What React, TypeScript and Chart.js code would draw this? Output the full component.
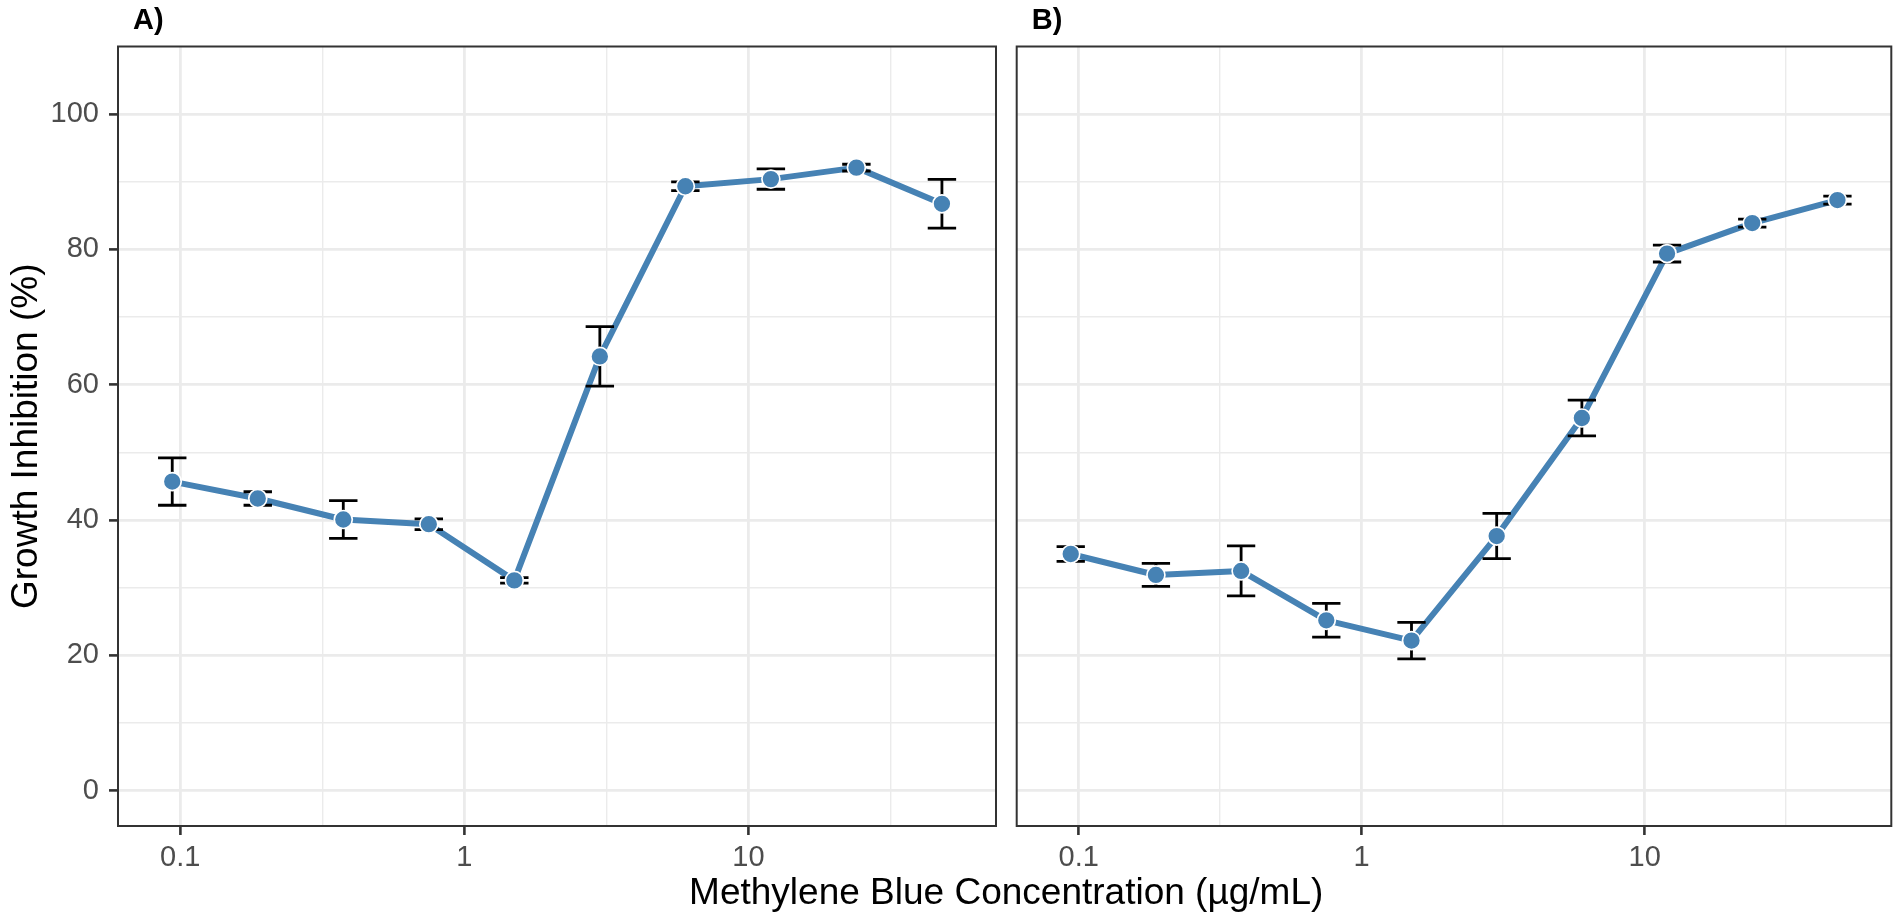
import React, { useEffect, useRef } from "react";
import { Chart, registerables } from "chart.js";

Chart.register(...registerables);

// ---- data ----
const CONC = [0.09375, 0.1875, 0.375, 0.75, 1.5, 3, 6, 12, 24, 48];
const A_MEAN = [45.7, 43.2, 40.1, 39.4, 31.1, 64.2, 89.35, 90.4, 92.1, 86.75];
const A_SD = [3.5, 1.0, 2.8, 0.8, 0.4, 4.4, 0.65, 1.5, 0.5, 3.6];
const B_MEAN = [35.0, 31.9, 32.5, 25.2, 22.2, 37.65, 55.1, 79.4, 83.9, 87.3];
const B_SD = [1.1, 1.7, 3.7, 2.5, 2.7, 3.35, 2.65, 1.25, 0.6, 0.6];

const X_MAJOR = [0.1, 1, 10];
const X_LABELS = ["0.1", "1", "10"];
const X_MINOR = [Math.pow(10, -0.5), Math.pow(10, 0.5), Math.pow(10, 1.5)];
const Y_MAJOR = [0, 20, 40, 60, 80, 100];
const Y_LABELS = ["0", "20", "40", "60", "80", "100"];
const Y_MINOR = [10, 30, 50, 70, 90];

const X_TITLE = "Methylene Blue Concentration (µg/mL)";
const Y_TITLE = "Growth Inhibition (%)";

// ---- styling / layout ----
const X_MIN = 0.0604;
const X_MAX = 74.4;
const Y_MIN = -5.2;
const Y_MAX = 110;
const CAP_HALF_LOG = 0.05;

const FONT = '"Liberation Sans", Arial, Helvetica, sans-serif';
const STEEL = "#4682B4";
const GRID = "#EBEBEB";
const DARK = "#333333";
const TICK_TXT = "#4D4D4D";

const W = 1902;
const H = 921;
const PANEL_TOP = 46.5;
const PANEL_BOTTOM = 826;
const A_LEFT = 118;
const A_RIGHT = 996;
const B_CANVAS_LEFT = 1006;
const B_LEFT = 1016.5;
const B_RIGHT = 1894.4;

const isIn = (v: number, arr: number[]) => arr.some((a) => Math.abs(a - v) < 1e-6 * Math.max(1, Math.abs(a)));

function makeConfig(mean: number[], sd: number[], isA: boolean, label: string): any {
  const pts = CONC.map((x, i) => ({ x, y: mean[i] }));
  const canvasW = isA ? W : W - B_CANVAS_LEFT;
  const padLeft = isA ? 0 : B_LEFT - B_CANVAS_LEFT;
  const padRight = isA ? W - A_RIGHT : canvasW - (B_RIGHT - B_CANVAS_LEFT);

  const decor = {
    id: "decor" + (isA ? "A" : "B"),
    afterDatasetDraw(chart: any, args: any) {
      if (args.index !== 0) return;
      const ctx = chart.ctx;
      const xs = chart.scales.x;
      const ys = chart.scales.y;
      ctx.save();
      ctx.strokeStyle = "#000000";
      ctx.lineWidth = 2.8;
      ctx.lineCap = "butt";
      CONC.forEach((c, i) => {
        const px = xs.getPixelForValue(c);
        const xl = xs.getPixelForValue(c * Math.pow(10, -CAP_HALF_LOG));
        const xr = xs.getPixelForValue(c * Math.pow(10, CAP_HALF_LOG));
        const yt = ys.getPixelForValue(mean[i] + sd[i]);
        const yb = ys.getPixelForValue(mean[i] - sd[i]);
        ctx.beginPath();
        ctx.moveTo(px, yt);
        ctx.lineTo(px, yb);
        ctx.moveTo(xl, yt);
        ctx.lineTo(xr, yt);
        ctx.moveTo(xl, yb);
        ctx.lineTo(xr, yb);
        ctx.stroke();
      });
      ctx.restore();
    },
    afterDraw(chart: any) {
      const ctx = chart.ctx;
      const a = chart.chartArea;
      ctx.save();
      ctx.strokeStyle = DARK;
      ctx.lineWidth = 2;
      ctx.strokeRect(a.left, a.top, a.right - a.left, a.bottom - a.top);
      ctx.fillStyle = "#000000";
      ctx.textAlign = "left";
      ctx.textBaseline = "alphabetic";
      ctx.font = `bold 29px ${FONT}`;
      ctx.fillText(label, a.left + 15, 29);
      if (isA) {
        ctx.font = `37px ${FONT}`;
        ctx.textAlign = "center";
        ctx.fillText(X_TITLE, (A_LEFT + B_RIGHT) / 2, 904);
      }
      ctx.restore();
    },
  };

  return {
    type: "line",
    data: {
      datasets: [
        {
          data: pts,
          borderColor: STEEL,
          borderWidth: 6,
          pointRadius: 0,
          fill: false,
          tension: 0,
          order: 2,
          borderJoinStyle: "round",
        },
        {
          data: pts,
          showLine: false,
          pointRadius: 9,
          pointBackgroundColor: STEEL,
          pointBorderColor: "#FFFFFF",
          pointBorderWidth: 1.7,
          order: 1,
        },
      ],
    },
    plugins: [decor],
    options: {
      animation: false,
      responsive: false,
      events: [],
      layout: { padding: { left: padLeft, right: padRight, top: PANEL_TOP, bottom: 0 } },
      plugins: { legend: { display: false }, tooltip: { enabled: false }, title: { display: false } },
      scales: {
        x: {
          type: "logarithmic",
          min: X_MIN,
          max: X_MAX,
          bounds: "data",
          afterBuildTicks: (s: any) => {
            s.ticks = [...X_MAJOR, ...X_MINOR].sort((p, q) => p - q).map((v) => ({ value: v }));
          },
          afterFit: (s: any) => {
            s.height = H - PANEL_BOTTOM;
          },
          ticks: {
            autoSkip: false,
            maxRotation: 0,
            minRotation: 0,
            padding: 6,
            color: TICK_TXT,
            font: { family: FONT, size: 29 },
            callback: (v: number) => {
              const i = X_MAJOR.findIndex((m) => Math.abs(m - v) < 1e-6 * m);
              return i >= 0 ? X_LABELS[i] : "";
            },
          },
          grid: {
            color: GRID,
            lineWidth: (c: any) => (c.tick && isIn(c.tick.value, X_MAJOR) ? 2.8 : 1.4),
            tickColor: (c: any) => (c.tick && isIn(c.tick.value, X_MAJOR) ? DARK : "rgba(0,0,0,0)"),
            tickWidth: 2.6,
            tickLength: 9,
            drawTicks: true,
          },
          border: { display: false },
        },
        y: {
          type: "linear",
          min: Y_MIN,
          max: Y_MAX,
          bounds: "data",
          afterBuildTicks: (s: any) => {
            s.ticks = [...Y_MAJOR, ...Y_MINOR].sort((p, q) => p - q).map((v) => ({ value: v }));
          },
          afterFit: (s: any) => {
            s.width = isA ? A_LEFT : 0;
          },
          ticks: {
            display: isA,
            padding: 10,
            color: TICK_TXT,
            font: { family: FONT, size: 29 },
            callback: (v: number) => {
              const i = Y_MAJOR.indexOf(v);
              return i >= 0 ? Y_LABELS[i] : "";
            },
          },
          grid: {
            color: GRID,
            lineWidth: (c: any) => (c.tick && isIn(c.tick.value, Y_MAJOR) ? 2.8 : 1.4),
            tickColor: (c: any) => (c.tick && isIn(c.tick.value, Y_MAJOR) ? DARK : "rgba(0,0,0,0)"),
            tickWidth: 2.6,
            tickLength: 9,
            drawTicks: isA,
          },
          border: { display: false },
          title: isA
            ? {
                display: true,
                text: Y_TITLE,
                color: "#000000",
                font: { family: FONT, size: 37 },
                padding: { top: 5, bottom: 0 },
              }
            : { display: false },
        },
      },
    },
  };
}

export default function App() {
  const refA = useRef<HTMLCanvasElement>(null);
  const refB = useRef<HTMLCanvasElement>(null);

  useEffect(() => {
    const ca = new Chart(refA.current as HTMLCanvasElement, makeConfig(A_MEAN, A_SD, true, "A)"));
    const cb = new Chart(refB.current as HTMLCanvasElement, makeConfig(B_MEAN, B_SD, false, "B)"));
    return () => {
      ca.destroy();
      cb.destroy();
    };
  }, []);

  return (
    <div style={{ position: "absolute", left: 0, top: 0, width: W, height: H, background: "#FFFFFF", overflow: "hidden" }}>
      <canvas
        ref={refA}
        width={W}
        height={H}
        style={{ position: "absolute", left: 0, top: 0, width: W, height: H }}
      />
      <canvas
        ref={refB}
        width={W - B_CANVAS_LEFT}
        height={H}
        style={{ position: "absolute", left: B_CANVAS_LEFT, top: 0, width: W - B_CANVAS_LEFT, height: H }}
      />
    </div>
  );
}
